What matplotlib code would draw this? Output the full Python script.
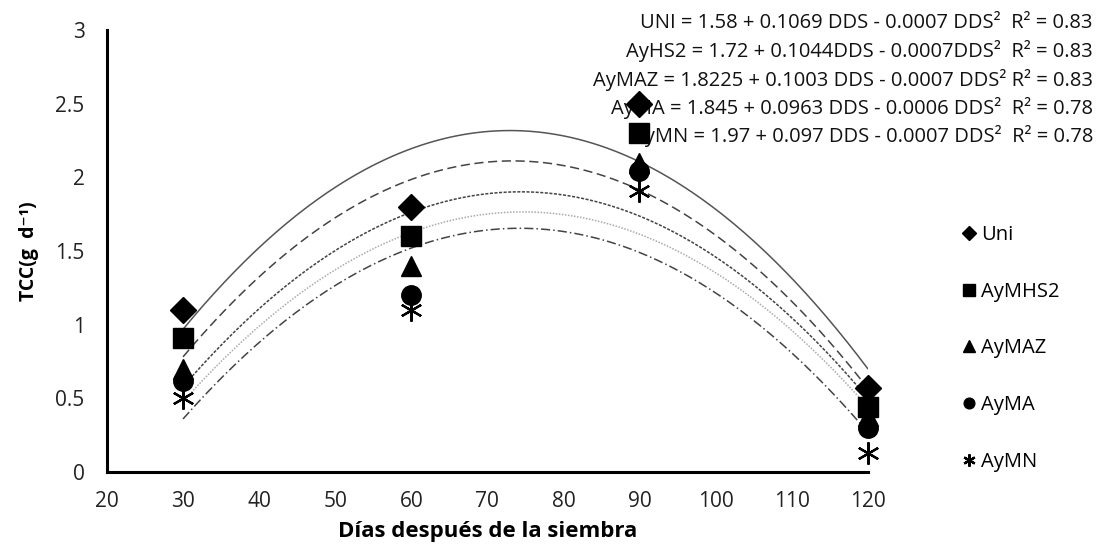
import numpy as np
import matplotlib
matplotlib.use('Agg')
import matplotlib.pyplot as plt

plt.rcParams['font.family'] = ['Open Sans', 'DejaVu Sans']

dds = [30, 60, 90, 120]
uni = [1.1, 1.8, 2.5, 0.57]
aymhs2 = [0.91, 1.6, 2.3, 0.44]
aymaz = [0.7, 1.4, 2.1, 0.38]
ayma = [0.62, 1.2, 2.04, 0.3]
aymn = [0.5, 1.1, 1.91, 0.13]

names = ['Uni', 'AyMHS2', 'AyMAZ', 'AyMA', 'AyMN']
series = [uni, aymhs2, aymaz, ayma, aymn]

equations = [
    'UNI = 1.58 + 0.1069 DDS - 0.0007 DDS\u00b2  R\u00b2 = 0.83',
    'AyHS2 = 1.72 + 0.1044DDS - 0.0007DDS\u00b2  R\u00b2 = 0.83',
    'AyMAZ = 1.8225 + 0.1003 DDS - 0.0007 DDS\u00b2 R\u00b2 = 0.83',
    'AyMA = 1.845 + 0.0963 DDS - 0.0006 DDS\u00b2  R\u00b2 = 0.78',
    'AyMN = 1.97 + 0.097 DDS - 0.0007 DDS\u00b2  R\u00b2 = 0.78',
]

markers = ['D', 's', '^', 'o', (6, 2, 0)]
msizes = [13, 15, 15, 14, 16]
# trendline styles
lstyles = ['-', (0, (6, 3)), (0, (2, 1)), (0, (1, 1)), (0, (6, 2, 1, 2))]
lcolors = ['#555555', '#444444', '#444444', '#aaaaaa', '#444444']

fig = plt.figure(figsize=(10.97, 5.48), dpi=100)
ax = fig.add_axes([0.0975, 0.1387, 0.6935, 0.8066])

xs = np.linspace(30, 120, 200)
for ys, ls, lc in zip(series, lstyles, lcolors):
    coef = np.polyfit(dds, ys, 2)
    ax.plot(xs, np.polyval(coef, xs), ls=ls, color=lc, lw=1.1, zorder=2)

handles = []
for ys, name, m, ms in zip(series, names, markers, msizes):
    h, = ax.plot(dds, ys, ls='', marker=m, ms=ms, color='black',
                 mec='black', mew=1.6 if m == (6, 2, 0) else 1,
                 label=name, zorder=5, clip_on=False)
    handles.append(h)

for i, eq in enumerate(equations):
    ax.text(1093 / 1097, 1 - (23 + 28.3 * i) / 548, eq, transform=fig.transFigure,
            ha='right', va='center', fontsize=14.5, zorder=1, clip_on=False,
            color='#111111')

ax.set_xlim(20, 120)
ax.set_ylim(0, 3)
ax.set_xticks(np.arange(20, 121, 10))
ax.set_yticks([0, 0.5, 1, 1.5, 2, 2.5, 3])
ax.set_yticklabels(['0', '0.5', '1', '1.5', '2', '2.5', '3'])
ax.tick_params(length=0, labelsize=15, colors='#222222')
ax.tick_params(axis='y', pad=16)
ax.tick_params(axis='x', pad=14)

for s in ['top', 'right']:
    ax.spines[s].set_visible(False)
for s in ['left', 'bottom']:
    ax.spines[s].set_linewidth(2.2)

ax.set_xlabel('D\u00edas despu\u00e9s de la siembra', fontsize=16, fontweight='bold', labelpad=6)
ax.set_ylabel('TCC(g  d\u207b\u00b9)', fontsize=14, fontweight='bold', labelpad=12)

leg = ax.legend(handles=handles, loc='upper left', bbox_to_anchor=(955 / 1097, 1 - 217 / 548),
                bbox_transform=fig.transFigure, frameon=False, markerscale=0.55,
                fontsize=14.5, labelspacing=1.82, handlelength=0.6, handletextpad=0.3,
                borderaxespad=0)

fig.savefig('out.png', dpi=100)
